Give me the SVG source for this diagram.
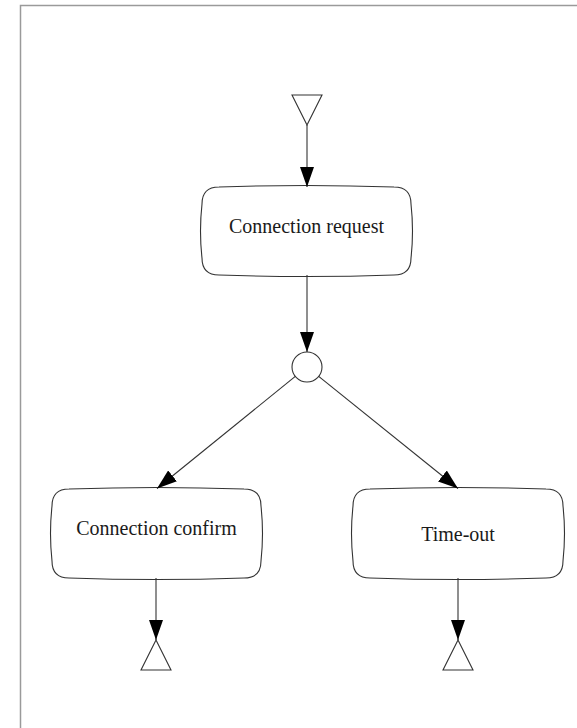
<svg xmlns="http://www.w3.org/2000/svg" width="577" height="728" viewBox="0 0 577 728">
  <style>
    .frame { fill: none; stroke: #9a9a9a; stroke-width: 1.5; }
    .shape { fill: #ffffff; stroke: #333333; stroke-width: 1.1; }
    .edge { fill: none; stroke: #333333; stroke-width: 1.1; marker-end: url(#arrow); }
    .label { font-family: "Liberation Serif", "DejaVu Serif", serif; font-size: 20px; fill: #1a1a1a; text-anchor: middle; }
  </style>
  <defs>
    <marker id="arrow" markerUnits="userSpaceOnUse" markerWidth="20" markerHeight="14" refX="20" refY="7" orient="auto">
      <path d="M0,0 L20,7 L0,14 Z" fill="#000000"/>
    </marker>
  </defs>

  <rect width="577" height="728" fill="#ffffff"/>
  <!-- page frame: top and left edges -->
  <path class="frame" d="M20.5,728 V5.5 H577"/>

  <g id="initial">
    <polygon class="shape" points="292,95 322,95 307,125"/>
  </g>

  <g id="connection-request">
    <path class="shape" d="M219,187 Q306.5,184 394,187 Q411,187 411,204 Q414,231 411,258 Q411,275 394,275 Q306.5,278 219,275 Q202,275 202,258 Q199,231 202,204 Q202,187 219,187 Z"/>
    <text class="label" x="306.5" y="233">Connection request</text>
  </g>

  <g id="decision">
    <circle class="shape" cx="307" cy="367" r="15"/>
  </g>

  <g id="connection-confirm">
    <path class="shape" d="M69,489 Q156.5,486 244,489 Q261,489 261,506 Q264,533.5 261,561 Q261,578 244,578 Q156.5,581 69,578 Q52,578 52,561 Q49,533.5 52,506 Q52,489 69,489 Z"/>
    <text class="label" x="156.5" y="535">Connection confirm</text>
  </g>

  <g id="time-out">
    <path class="shape" d="M370,489 Q458,486 546,489 Q563,489 563,506 Q566,533.5 563,561 Q563,578 546,578 Q458,581 370,578 Q353,578 353,561 Q350,533.5 353,506 Q353,489 370,489 Z"/>
    <text class="label" x="458" y="541">Time-out</text>
  </g>

  <g id="final-confirm">
    <polygon class="shape" points="156,640 141,670 171,670"/>
  </g>

  <g id="final-timeout">
    <polygon class="shape" points="458,640 443,670 473,670"/>
  </g>

  <g id="connectors">
    <line class="edge" x1="307" y1="125" x2="307" y2="187"/>
    <line class="edge" x1="307" y1="275" x2="307" y2="352"/>
    <line class="edge" x1="295.3" y1="376.4" x2="157" y2="488.5"/>
    <line class="edge" x1="318.7" y1="376.4" x2="458" y2="488.5"/>
    <line class="edge" x1="156" y1="578" x2="156" y2="640"/>
    <line class="edge" x1="458" y1="578" x2="458" y2="640"/>
  </g>
</svg>
